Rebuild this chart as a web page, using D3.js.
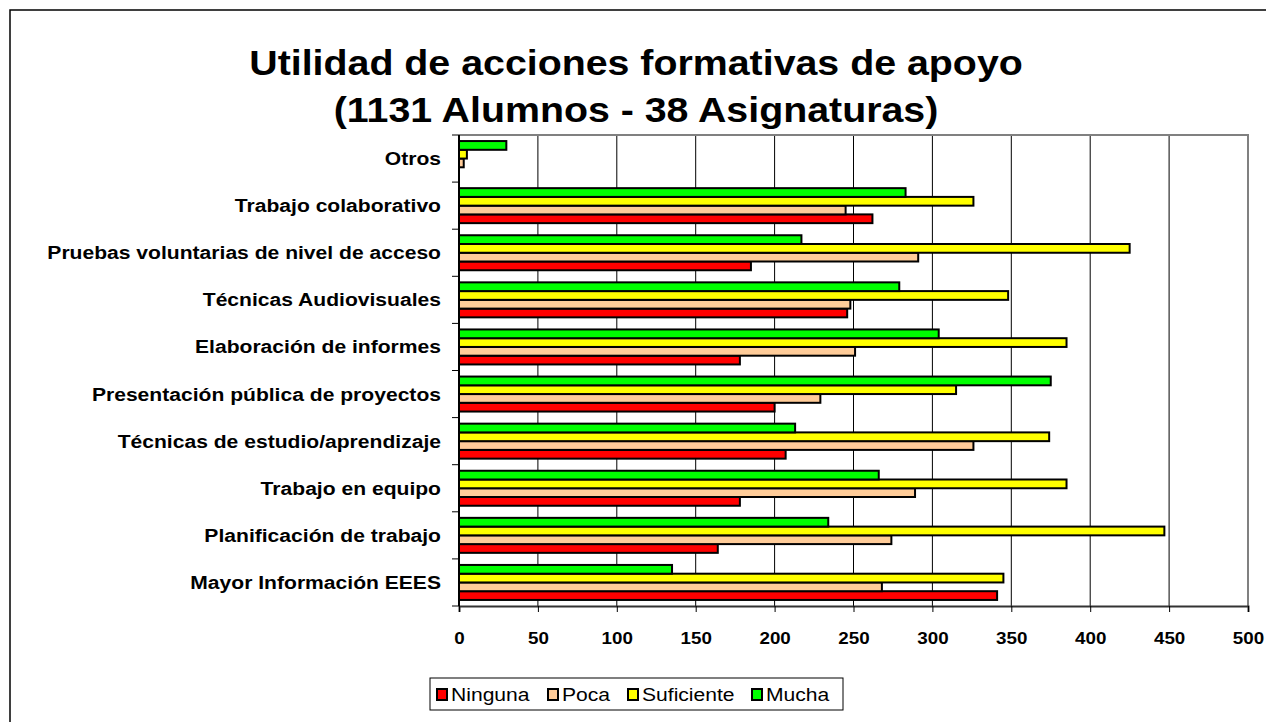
<!DOCTYPE html>
<html>
<head>
<meta charset="utf-8">
<script src="https://cdn.jsdelivr.net/npm/d3@7"></script>
<style>
  body { margin: 0; background: #fff; }
  svg { font-family: "Liberation Sans", Arial, sans-serif; }
</style>
</head>
<body>
<div id="chart"></div>
<script>
// categories listed bottom to top, as in the original chart
const categories = [
  "Mayor Información EEES",
  "Planificación de trabajo",
  "Trabajo en equipo",
  "Técnicas de estudio/aprendizaje",
  "Presentación pública de proyectos",
  "Elaboración de informes",
  "Técnicas Audiovisuales",
  "Pruebas voluntarias de nivel de acceso",
  "Trabajo colaborativo",
  "Otros"
];
const seriesNames = ["Ninguna", "Poca", "Suficiente", "Mucha"];
const ninguna    = [341, 164, 178, 207, 200, 178, 246, 185, 262, 0];
const poca       = [268, 274, 289, 326, 229, 251, 248, 291, 245, 3];
const suficiente = [345, 447, 385, 374, 315, 385, 348, 425, 326, 5];
const mucha      = [135, 234, 266, 213, 375, 304, 279, 217, 283, 30];
const xTicks = [0, 50, 100, 150, 200, 250, 300, 350, 400, 450, 500];
const colors = ["#FF0000", "#FFCC99", "#FFFF00", "#00FF00"];

const values = [ninguna, poca, suficiente, mucha];
const data = categories.map((c, i) => ({
  cat: c,
  vals: seriesNames.map((s, j) => ({ s, v: values[j][i], color: colors[j] }))
}));

const W = 1266, H = 722;
const plot = { left: 459, right: 1248, top: 135, bottom: 606 };
const stretch = 1.14; // text in the picture is a bit wider than normal

const svg = d3.select("#chart").append("svg")
  .attr("width", W).attr("height", H);

// outer chart border (only left/top visible in the picture)
svg.append("rect")
  .attr("x", 10).attr("y", 10)
  .attr("width", W).attr("height", H)
  .attr("fill", "#fff").attr("stroke", "#000").attr("stroke-width", 1.5);

// stretched text helper
function label(parent, x, y, txt, size, weight, anchor) {
  return parent.append("text")
    .attr("transform", `translate(${x},${y}) scale(${stretch},1)`)
    .attr("text-anchor", anchor || "start")
    .attr("font-size", size)
    .attr("font-weight", weight || "normal")
    .text(txt);
}

// title
label(svg, 636, 75, "Utilidad de acciones formativas de apoyo", 34.5, "bold", "middle");
label(svg, 636, 122, "(1131 Alumnos - 38 Asignaturas)", 34.5, "bold", "middle");

const x = d3.scaleLinear().domain([0, 500]).range([plot.left, plot.right]);

const y0 = d3.scaleBand()
  .domain(categories)
  .range([plot.bottom, plot.top])
  .paddingInner(0.257)
  .paddingOuter(0.1285);

// series inside each group, top to bottom: Mucha, Suficiente, Poca, Ninguna
const y1 = d3.scaleBand()
  .domain(seriesNames.slice().reverse())
  .range([0, y0.bandwidth()]);

// vertical gridlines
svg.append("g")
  .selectAll("line")
  .data(xTicks.slice(1, -1))
  .join("line")
  .attr("x1", d => x(d)).attr("x2", d => x(d))
  .attr("y1", plot.top).attr("y2", plot.bottom)
  .attr("stroke", "#000").attr("stroke-width", 1);

// plot area frame (grey top and right)
svg.append("path")
  .attr("d", `M${plot.left},${plot.top}H${plot.right}V${plot.bottom}`)
  .attr("fill", "none").attr("stroke", "#808080").attr("stroke-width", 2);

// bars
const groups = svg.append("g")
  .selectAll("g")
  .data(data)
  .join("g")
  .attr("transform", d => `translate(0,${y0(d.cat)})`);

groups.selectAll("rect")
  .data(d => d.vals.filter(v => v.v > 0))
  .join("rect")
  .attr("x", x(0))
  .attr("y", d => y1(d.s))
  .attr("width", d => x(d.v) - x(0))
  .attr("height", y1.bandwidth())
  .attr("fill", d => d.color)
  .attr("stroke", "#000").attr("stroke-width", 2);

// bottom axis
const xAxis = svg.append("g")
  .attr("transform", `translate(0,${plot.bottom})`)
  .call(d3.axisBottom(x).tickValues(xTicks).tickSize(6).tickPadding(20));
xAxis.select(".domain").attr("stroke", "#333").attr("stroke-width", 2);
xAxis.selectAll(".tick line").attr("stroke", "#000");
xAxis.selectAll(".tick text")
  .attr("transform", `scale(${stretch},1)`)
  .attr("x", 0)
  .attr("font-size", 16.5).attr("font-weight", "bold")
  .attr("font-family", "Liberation Sans, Arial, sans-serif")
  .attr("fill", "#000");

// left axis: ticks at category boundaries
const boundaries = d3.range(categories.length + 1)
  .map(i => plot.bottom - i * (plot.bottom - plot.top) / categories.length);
svg.append("line")
  .attr("x1", plot.left).attr("x2", plot.left)
  .attr("y1", plot.top).attr("y2", plot.bottom)
  .attr("stroke", "#000").attr("stroke-width", 2);
svg.append("g")
  .selectAll("line")
  .data(boundaries)
  .join("line")
  .attr("x1", plot.left - 7).attr("x2", plot.left)
  .attr("y1", d => d).attr("y2", d => d)
  .attr("stroke", "#000").attr("stroke-width", 1);

const catLabels = svg.append("g");
categories.forEach(c => {
  label(catLabels, 441, y0(c) + y0.bandwidth() / 2 + 6.5, c, 18.5, "bold", "end");
});

// legend
const legend = svg.append("g").attr("transform", "translate(430,678)");
legend.append("rect")
  .attr("width", 413).attr("height", 32)
  .attr("fill", "#fff").attr("stroke", "#000").attr("stroke-width", 1);
const legendX = [7, 118, 198, 322];
seriesNames.forEach((s, i) => {
  const g = legend.append("g").attr("transform", `translate(${legendX[i]},0)`);
  g.append("rect")
    .attr("x", 0).attr("y", 11).attr("width", 10).attr("height", 11)
    .attr("fill", colors[i]).attr("stroke", "#000").attr("stroke-width", 2);
  label(g, 14, 23, s, 18.5, "normal", "start");
});
</script>
</body>
</html>
